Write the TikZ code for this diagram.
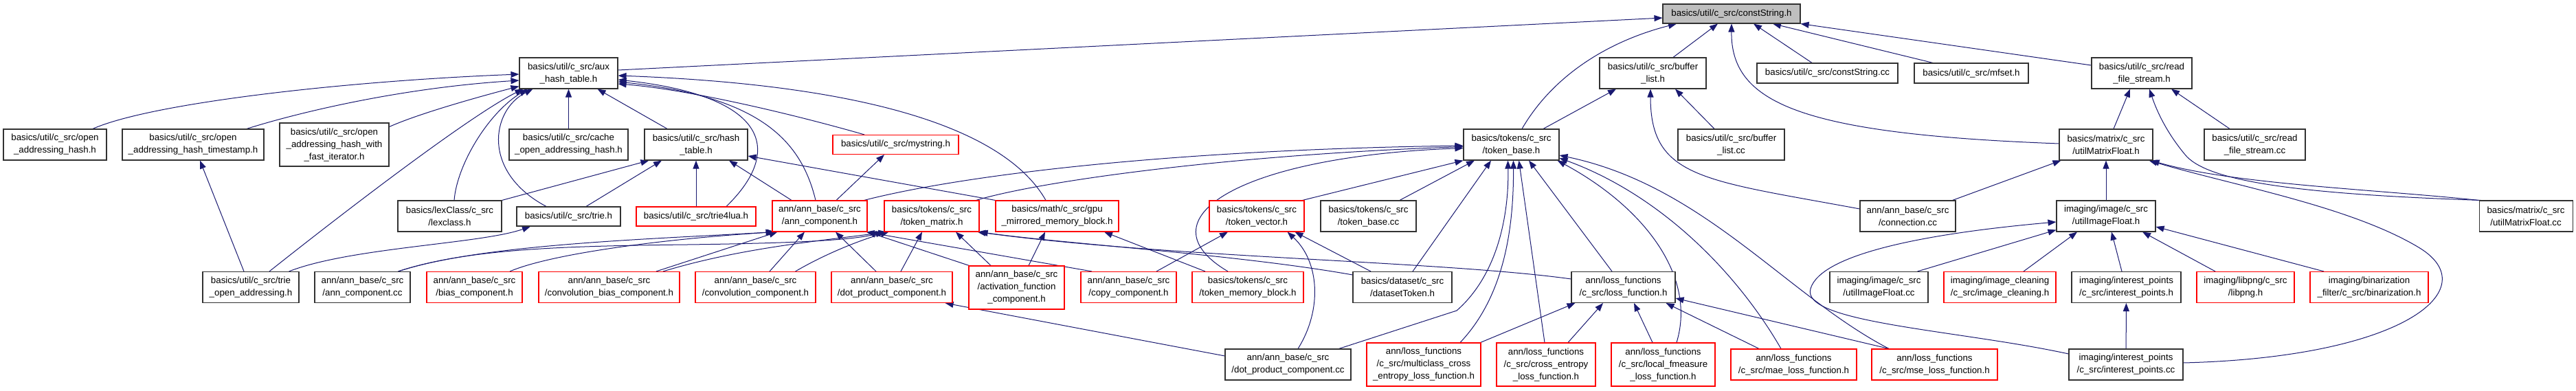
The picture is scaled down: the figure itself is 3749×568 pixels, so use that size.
\documentclass[tikz,border=0pt]{standalone}
\usepackage{fontspec}
\newfontfamily\dxfont{Liberation Sans}
\usetikzlibrary{arrows.meta}
\pgfdeclarelayer{bg}
\pgfsetlayers{bg,main}
\definecolor{edgeblue}{RGB}{25,25,112}
\definecolor{boxgray}{RGB}{191,191,191}
\definecolor{boxline}{RGB}{50,50,50}
\definecolor{boxred}{RGB}{255,0,0}
\tikzset{
  nb/.style={rectangle, draw=boxline, line width=1.1pt, fill=white, inner sep=0pt, align=center,
    font={\dxfont\fontsize{13.3pt}{18pt}\selectfont}},
  nr/.style={nb, draw=boxred},
  bw/.style={minimum width=#1pt},
  bh/.style={minimum height=#1pt},
  edge/.style={draw=edgeblue, line width=1pt, -{Triangle[length=12pt,width=9pt]}}
}
\begin{document}
\begin{tikzpicture}[x=1pt,y=-1pt]
\useasboundingbox (0,0) rectangle (3749,568);
% top
\node[nb, fill=boxgray, bw=200, bh=28] (cs) at (2520,20) {basics/util/c\_src/constString.h};
% row 2
\node[nb, bw=143, bh=45] (aux) at (827.5,106.5) {basics/util/c\_src/aux\\\_hash\_table.h};
\node[nb, bw=155, bh=45] (buf) at (2405.5,106.5) {basics/util/c\_src/buffer\\\_list.h};
\node[nb, bw=205, bh=29] (cscc) at (2659.5,106.5) {basics/util/c\_src/constString.cc};
\node[nb, bw=166, bh=29] (mfset) at (2869,106.5) {basics/util/c\_src/mfset.h};
\node[nb, bw=146, bh=45] (rfs) at (3117,106.5) {basics/util/c\_src/read\\\_file\_stream.h};
% row 3
\node[nb, bw=150, bh=45] (oah) at (80,210.5) {basics/util/c\_src/open\\\_addressing\_hash.h};
\node[nb, bw=206, bh=45] (oaht) at (281,210.5) {basics/util/c\_src/open\\\_addressing\_hash\_timestamp.h};
\node[nb, bw=159, bh=63] (oahf) at (486.5,210.5) {basics/util/c\_src/open\\\_addressing\_hash\_with\\\_fast\_iterator.h};
\node[nb, bw=173, bh=45] (cache) at (827.5,210.5) {basics/util/c\_src/cache\\\_open\_addressing\_hash.h};
\node[nb, bw=150, bh=45] (ht) at (1013,210.5) {basics/util/c\_src/hash\\\_table.h};
\node[nr, bw=183, bh=28] (mystr) at (1303.5,210.5) {basics/util/c\_src/mystring.h};
\node[nb, bw=139, bh=45] (tb) at (2199.5,210.5) {basics/tokens/c\_src\\/token\_base.h};
\node[nb, bw=155, bh=45] (bufcc) at (2519.5,210.5) {basics/util/c\_src/buffer\\\_list.cc};
\node[nb, bw=136, bh=45] (umf) at (3065,210.5) {basics/matrix/c\_src\\/utilMatrixFloat.h};
\node[nb, bw=147, bh=45] (rfscc) at (3281.5,210.5) {basics/util/c\_src/read\\\_file\_stream.cc};
% row 4
\node[nb, bw=151, bh=45] (lex) at (654.5,314.5) {basics/lexClass/c\_src\\/lexclass.h};
\node[nb, bw=151, bh=28] (trie) at (827.5,315) {basics/util/c\_src/trie.h};
\node[nr, bw=174, bh=28] (trie4lua) at (1013,315) {basics/util/c\_src/trie4lua.h};
\node[nr, bw=138, bh=45] (ann) at (1193,314.5) {ann/ann\_base/c\_src\\/ann\_component.h};
\node[nr, bw=138, bh=45] (tm) at (1356,314.5) {basics/tokens/c\_src\\/token\_matrix.h};
\node[nr, bw=179, bh=45] (gpu) at (1538.5,314.5) {basics/math/c\_src/gpu\\\_mirrored\_memory\_block.h};
\node[nr, bw=138, bh=45] (tv) at (1829,314.5) {basics/tokens/c\_src\\/token\_vector.h};
\node[nb, bw=139, bh=45] (tbcc) at (1991.5,314.5) {basics/tokens/c\_src\\/token\_base.cc};
\node[nb, bw=139, bh=45] (conn) at (2776.5,314.5) {ann/ann\_base/c\_src\\/connection.cc};
\node[nb, bw=144, bh=45] (uif) at (3065,314.5) {imaging/image/c\_src\\/utilImageFloat.h};
\node[nb, bw=136, bh=45] (umfcc) at (3676,314.5) {basics/matrix/c\_src\\/utilMatrixFloat.cc};
% row 5
\node[nb, bw=140, bh=45] (trieoa) at (365,418) {basics/util/c\_src/trie\\\_open\_addressing.h};
\node[nb, bw=139, bh=45] (anncc) at (527.5,418) {ann/ann\_base/c\_src\\/ann\_component.cc};
\node[nr, bw=139, bh=45] (bias) at (690.5,418) {ann/ann\_base/c\_src\\/bias\_component.h};
\node[nr, bw=205, bh=45] (convb) at (886.5,418) {ann/ann\_base/c\_src\\/convolution\_bias\_component.h};
\node[nr, bw=175, bh=45] (conv) at (1099.5,418) {ann/ann\_base/c\_src\\/convolution\_component.h};
\node[nr, bw=176, bh=45] (dp) at (1298,418) {ann/ann\_base/c\_src\\/dot\_product\_component.h};
\node[nr, bw=139, bh=63] (act) at (1479.5,418.5) {ann/ann\_base/c\_src\\/activation\_function\\\_component.h};
\node[nr, bw=139, bh=45] (copy) at (1642.5,418) {ann/ann\_base/c\_src\\/copy\_component.h};
\node[nr, bw=162, bh=45] (tmb) at (1816,418) {basics/tokens/c\_src\\/token\_memory\_block.h};
\node[nb, bw=144, bh=45] (ds) at (2041,418) {basics/dataset/c\_src\\/datasetToken.h};
\node[nb, bw=151, bh=45] (lf) at (2362.5,418) {ann/loss\_functions\\/c\_src/loss\_function.h};
\node[nb, bw=143, bh=45] (uifcc) at (2734.5,418) {imaging/image/c\_src\\/utilImageFloat.cc};
\node[nr, bw=163, bh=45] (imgc) at (2910.5,418) {imaging/image\_cleaning\\/c\_src/image\_cleaning.h};
\node[nb, bw=159, bh=45] (iph) at (3094.5,418) {imaging/interest\_points\\/c\_src/interest\_points.h};
\node[nr, bw=142, bh=45] (libpng) at (3268,418) {imaging/libpng/c\_src\\/libpng.h};
\node[nr, bw=172, bh=45] (bin) at (3448,418) {imaging/binarization\\\_filter/c\_src/binarization.h};
% row 6
\node[nb, bw=183, bh=45] (dpcc) at (1874.5,530.5) {ann/ann\_base/c\_src\\/dot\_product\_component.cc};
\node[nr, bw=166, bh=63] (mc) at (2072,530.5) {ann/loss\_functions\\/c\_src/multiclass\_cross\\\_entropy\_loss\_function.h};
\node[nr, bw=144, bh=63] (ce) at (2250,530.5) {ann/loss\_functions\\/c\_src/cross\_entropy\\\_loss\_function.h};
\node[nr, bw=151, bh=63] (lfm) at (2420.5,530.5) {ann/loss\_functions\\/c\_src/local\_fmeasure\\\_loss\_function.h};
\node[nr, bw=183, bh=45] (mae) at (2610.5,530.5) {ann/loss\_functions\\/c\_src/mae\_loss\_function.h};
\node[nr, bw=183, bh=45] (mse) at (2815.5,530.5) {ann/loss\_functions\\/c\_src/mse\_loss\_function.h};
\node[nb, bw=166, bh=45] (ipcc) at (3094,530.5) {imaging/interest\_points\\/c\_src/interest\_points.cc};

\begin{pgfonlayer}{bg}
% to constString.h
\draw[edge] ([yshift=4.5pt]aux.east) -- ([yshift=-6pt]cs.west);
\draw[edge] ([xshift=15.5pt]tb.north) .. controls (2260,110) and (2340,60) .. ([xshift=-80pt]cs.south);
\draw[edge] ([xshift=29.5pt]buf.north) -- ([xshift=-20pt]cs.south);
\draw[edge] ([yshift=1.5pt]umf.west) .. controls (2620,195) and (2519,150) .. (cs.south);
\draw[edge] ([xshift=-22.5pt]cscc.north) -- ([xshift=32pt]cs.south);
\draw[edge] ([xshift=-56pt]mfset.north) -- ([xshift=60pt]cs.south);
\draw[edge] ([yshift=11.5pt]rfs.west) -- (cs.south east);
% to aux_hash_table.h
\draw[edge] ([xshift=55pt]oah.north) .. controls (220,150) and (500,118) .. ([yshift=-1.5pt]aux.west);
\draw[edge] ([xshift=78pt]oaht.north) .. controls (430,165) and (580,128) .. ([yshift=-10.5pt]aux.west);
\draw[edge] ([yshift=26pt]oahf.east) .. controls (610,165) and (700,140) .. ([yshift=4pt]aux.south west);
\draw[edge] ([xshift=27pt]trieoa.north) .. controls (480,325) and (680,170) .. ([xshift=6pt]aux.south west);
\draw[edge] ([xshift=6.5pt]lex.north) .. controls (665,240) and (710,165) .. ([xshift=12pt]aux.south west);
\draw[edge] ([xshift=-32.5pt]trie.north) .. controls (700,250) and (715,160) .. ([xshift=20pt]aux.south west);
\draw[edge] (cache) -- (aux);
\draw[edge] ([xshift=-42pt]ht.north) -- ([xshift=42pt]aux.south);
\draw[edge] ([xshift=-45.5pt]mystr.north) .. controls (1150,165) and (1000,130) .. ([yshift=-15.5pt]aux.east);
\draw[edge] ([xshift=-16.5pt]gpu.north) .. controls (1470,200) and (1300,125) .. ([yshift=-3.5pt]aux.east);
\draw[edge] ([xshift=44pt]trie4lua.north) .. controls (1140,220) and (1120,140) .. ([yshift=-9.5pt]aux.east);
\draw[edge] ([xshift=-6pt]ann.north) .. controls (1165,200) and (1100,140) .. ([yshift=-12.5pt]aux.east);
% to hash_table.h
\draw[edge] (lex.north east) -- ([xshift=7pt]ht.south west);
\draw[edge] ([xshift=25.5pt]trie.north) -- ([xshift=-50pt]ht.south);
\draw[edge] (trie4lua) -- (ht);
\draw[edge] ([xshift=-41pt]ann.north) -- ([xshift=48pt]ht.south);
\draw[edge] (gpu.north west) -- ([yshift=-16.5pt]ht.east);
% to mystring.h
\draw[edge] ([xshift=24pt]ann.north) -- ([xshift=-16.5pt]mystr.south);
% to token_base.h
\draw[edge] ([xshift=-5pt]ann.north east) .. controls (1400,255) and (1700,218) .. ([yshift=-1.5pt]tb.west);
\draw[edge] ([xshift=-5pt]tm.north east) .. controls (1520,262) and (1800,225) .. ([yshift=-3pt]tb.west);
\draw[edge] ([xshift=-29pt]tmb.north) .. controls (1660,320) and (1800,228) .. ([yshift=-5pt]tb.west);
\draw[edge] ([xshift=-3pt]tv.north east) -- (tb.south west);
\draw[edge] ([xshift=45.5pt]tbcc.north) -- ([xshift=-53.5pt]tb.south);
\draw[edge] ([xshift=15pt]ds.north) -- ([xshift=-29.5pt]tb.south);
\draw[edge] ([xshift=-18pt]dpcc.north east) -- (2120,452) .. controls (2185,395) and (2196,300) .. ([xshift=-5pt]tb.south);
\draw[edge] ([xshift=53pt]mc.north) .. controls (2190,430) and (2203,330) .. ([xshift=3pt]tb.south);
\draw[edge] ([xshift=-2pt]ce.north) -- ([xshift=11pt]tb.south);
\draw[edge] ([xshift=-16.5pt]lf.north) -- ([xshift=25.5pt]tb.south);
\draw[edge] ([xshift=19.5pt]lfm.north) .. controls (2470,400) and (2390,300) .. ([xshift=-3pt]tb.south east);
\draw[edge] ([xshift=-18.5pt]mae.north) .. controls (2530,400) and (2420,285) .. ([yshift=-19.5pt]tb.east);
\draw[edge] ([xshift=-66.5pt]mse.north) .. controls (2600,430) and (2480,270) .. ([yshift=-15.5pt]tb.east);
% to buffer_list.h
\draw[edge] ([xshift=46.5pt]tb.north) -- ([xshift=-53.5pt]buf.south);
\draw[edge] ([xshift=-24.5pt]bufcc.north) -- ([xshift=32.5pt]buf.south);
\draw[edge] ([yshift=10.5pt]conn.west) .. controls (2480,262) and (2402,260) .. ([xshift=-3.5pt]buf.south);
% to utilMatrixFloat.h
\draw[edge] ([xshift=-5pt]conn.north east) -- ([xshift=3pt]umf.south west);
\draw[edge] (uif) -- (umf);
\draw[edge] (umfcc.north west) .. controls (3450,275) and (3250,268) .. ([xshift=-3pt]umf.south east);
\draw[edge] ([yshift=2.5pt]ipcc.east) .. controls (3500,520) and (3620,420) .. (3520,360) .. controls (3420,300) and (3250,270) .. ([xshift=-6pt]umf.south east);
% to read_file_stream.h
\draw[edge] ([xshift=11pt]umf.north) -- ([xshift=-17pt]rfs.south);
\draw[edge] ([xshift=-36.5pt]rfscc.north) -- ([xshift=43pt]rfs.south);
\draw[edge] ([xshift=3pt]umfcc.north west) .. controls (3330,282) and (3210,262) .. (3180,225) .. controls (3155,195) and (3140,165) .. ([xshift=11pt]rfs.south);
% to utilImageFloat.h
\draw[edge] ([xshift=-16pt]uifcc.north east) -- ([yshift=3pt]uif.south west);
\draw[edge] ([xshift=34.5pt]imgc.north) -- ([xshift=-42pt]uif.south);
\draw[edge] ([xshift=-6.5pt]iph.north) -- ([xshift=8pt]uif.south);
\draw[edge] ([xshift=-44pt]libpng.north) -- ([xshift=53pt]uif.south);
\draw[edge] ([xshift=-66pt]bin.north) -- ([yshift=-15.5pt]uif.east);
\draw[edge] ([yshift=15.5pt]ipcc.west) .. controls (2850,480) and (2620,470) .. (2635,420) .. controls (2650,370) and (2800,340) .. ([yshift=-8.5pt]uif.west);
\draw[edge] (ipcc) -- (iph);
% to ann_component.h
\draw[edge] ([xshift=-18pt]anncc.north east) .. controls (700,355) and (950,348) .. ([xshift=3pt]ann.south west);
\draw[edge] ([xshift=51.5pt]bias.north) .. controls (800,370) and (960,348) .. ([xshift=5pt]ann.south west);
\draw[edge] ([xshift=68.5pt]convb.north) -- ([xshift=8pt]ann.south west);
\draw[edge] ([xshift=20.5pt]conv.north) -- ([xshift=-22pt]ann.south);
\draw[edge] ([xshift=-23pt]dp.north) -- ([xshift=23pt]ann.south);
\draw[edge] ([xshift=1pt]act.north west) -- (ann.south east);
\draw[edge] ([xshift=-53.5pt]copy.north) -- ([xshift=-2pt]ann.south east);
% to token_matrix.h
\draw[edge] ([xshift=-18pt]anncc.north east) .. controls (680,362) and (820,358) .. (1000,356) .. controls (1150,354) and (1240,350) .. (tm.south west);
\draw[edge] ([xshift=78.5pt]convb.north) .. controls (1080,360) and (1200,350) .. ([xshift=4pt]tm.south west);
\draw[edge] ([xshift=-30pt]conv.north east) .. controls (1200,370) and (1250,350) .. ([xshift=7pt]tm.south west);
\draw[edge] ([xshift=13pt]dp.north) -- ([xshift=-14pt]tm.south);
\draw[edge] ([xshift=-37.5pt]act.north) -- ([xshift=35pt]tm.south);
\draw[edge] ([yshift=18pt]ds.west) .. controls (1800,370) and (1550,355) .. (tm.south east);
\draw[edge] ([yshift=12pt]lf.west) .. controls (2100,380) and (1700,375) .. ([xshift=-3pt]tm.south east);
% to gpu_mirrored_memory_block.h
\draw[edge] ([xshift=17.5pt]act.north) -- ([xshift=-17.5pt]gpu.south);
\draw[edge] ([xshift=-62pt]tmb.north) -- ([xshift=68.5pt]gpu.south);
% to token_vector.h
\draw[edge] ([xshift=40.5pt]copy.north) -- ([xshift=-42pt]tv.south);
\draw[edge] ([xshift=-46pt]ds.north) -- ([xshift=-14pt]tv.south east);
\draw[edge] ([xshift=14.5pt]dpcc.north) .. controls (1925,450) and (1920,380) .. ([xshift=-25pt]tv.south east);
% to dot_product_component.h
\draw[edge] ([yshift=12.5pt]dpcc.west) -- ([xshift=-11pt]dp.south east);
% to loss_function.h
\draw[edge] ([xshift=-1pt]mc.north east) -- ([xshift=6pt]lf.south west);
\draw[edge] ([xshift=32pt]ce.north) -- ([xshift=-29.5pt]lf.south);
\draw[edge] ([xshift=-15.5pt]lfm.north) -- ([xshift=15.5pt]lf.south);
\draw[edge] ([xshift=-50.5pt]mae.north) -- ([xshift=-14pt]lf.south east);
\draw[edge] ([xshift=-66.5pt]mse.north) -- ([yshift=-16pt]lf.east);
% to trie.h and timestamp
\draw[edge] ([xshift=-15pt]trieoa.north east) .. controls (510,360) and (700,355) .. ([xshift=-55.5pt]trie.south);
\draw[edge] ([xshift=-10pt]trieoa.north) -- ([xshift=10pt]oaht.south);
\end{pgfonlayer}
\end{tikzpicture}
\end{document}
